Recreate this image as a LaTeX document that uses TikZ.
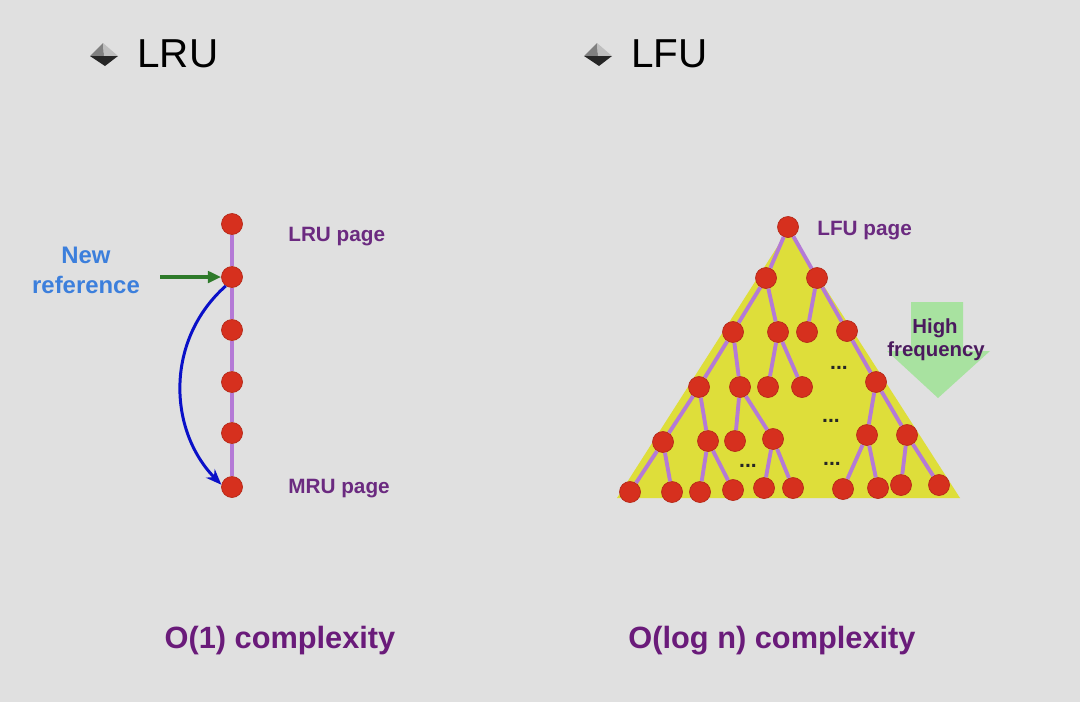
\documentclass[tikz,border=0pt]{standalone}
\usepackage{fontspec}
\setmainfont{Liberation Sans}
\usetikzlibrary{arrows.meta}
\definecolor{slidebg}{HTML}{E0E0E0}
\definecolor{pagered}{HTML}{D6301E}
\definecolor{linkviolet}{HTML}{B47AD6}
\definecolor{labelpurple}{HTML}{6B2A80}
\definecolor{cplxpurple}{HTML}{6A1B7A}
\definecolor{refblue}{HTML}{3C7FDC}
\definecolor{refgreen}{HTML}{2E7A2A}
\definecolor{moveblue}{HTML}{0A10C8}
\definecolor{heapyellow}{HTML}{DEDE3A}
\definecolor{freqgreen}{HTML}{A8E2A0}
\definecolor{freqtext}{HTML}{4B1A5E}
\tikzset{
  page/.style={circle, fill=pagered, draw=pagered!85!black, line width=0.4pt,
    minimum size=4.2mm, inner sep=0pt},
  link/.style={draw=linkviolet, line width=2.2pt},
  pagelabel/.style={anchor=base west, inner sep=0pt, text=labelpurple,
    font=\bfseries\fontsize{11.8}{14}\selectfont},
  heading/.style={anchor=base west, inner sep=0pt, font=\fontsize{23}{27}\selectfont},
  complexity/.style={anchor=base, inner sep=0pt, text=cplxpurple,
    font=\bfseries\fontsize{17.5}{21}\selectfont},
  newref/.style={anchor=base, inner sep=0pt, text=refblue,
    font=\bfseries\fontsize{13.6}{16}\selectfont},
  freqlabel/.style={anchor=base, inner sep=0pt, text=freqtext,
    font=\bfseries\fontsize{11.6}{14}\selectfont},
  moredots/.style={inner sep=0pt, text=black!85, font=\bfseries\fontsize{12}{14}\selectfont},
}
\newcommand{\slidebullet}[1]{%
  \begin{scope}[shift={#1}]
    \fill[black!50] (13,-12) -- (0,1) -- (14,1) -- cycle;
    \fill[black!25] (13,-12) -- (14,1) -- (28,1) -- cycle;
    \fill[black!85] (0,1) -- (28,1) -- (15,11) -- cycle;
  \end{scope}}
\begin{document}
\begin{tikzpicture}[x=0.2mm, y=-0.2mm, >=Stealth]
  \useasboundingbox (0,0) rectangle (1080,702);
  \fill[slidebg] (0,0) rectangle (1080,702);

  % headings
  \slidebullet{(90,55)}
  \node[heading] (lruhead) at (137,67) {LRU};
  \slidebullet{(584,55)}
  \node[heading] (lfuhead) at (631,67) {LFU};

  % LRU list
  \foreach \i/\y in {1/224, 2/277, 3/330, 4/382, 5/433, 6/487}
    \node[page] (n\i) at (232,\y) {};
  \foreach \i/\j in {1/2, 2/3, 3/4, 4/5, 5/6}
    \draw[link] (n\i) -- (n\j);
  \node[pagelabel] (lrulabel) at (288,241) {LRU page};
  \node[pagelabel] (mrulabel) at (288,493) {MRU page};
  \node[newref] (newref1) at (86,263) {New};
  \node[newref] (newref2) at (86,293) {reference};
  \coordinate (refin) at (160,277);
  \draw[refgreen, line width=2pt, -{Triangle[length=7.5pt, width=6.5pt]}] (refin) -- (n2);
  \draw[moveblue, line width=1.7pt, -{Stealth[length=9pt, width=7pt]}]
    (n2.235) .. controls (165,340) and (168,430) .. (n6.168);

  % LFU heap
  \fill[heapyellow] (788,230) -- (960,498) -- (617,498) -- cycle;
  \fill[freqgreen] (911,302) -- (963,302) -- (963,351) -- (990,351)
    -- (938,398) -- (887,351) -- (911,351) -- cycle;
  \node[freqlabel] (high) at (935,333) {High};
  \node[freqlabel] (freq) at (936,356) {frequency};

  \node[page] (r) at (788,227) {};
  \node[page] (a1) at (766,278) {};
  \node[page] (a2) at (817,278) {};
  \node[page] (b1) at (733,332) {};
  \node[page] (b2) at (778,332) {};
  \node[page] (b3) at (807,332) {};
  \node[page] (b4) at (847,331) {};
  \node[page] (c1) at (699,387) {};
  \node[page] (c2) at (740,387) {};
  \node[page] (c3) at (768,387) {};
  \node[page] (c4) at (802,387) {};
  \node[page] (c5) at (876,382) {};
  \node[page] (d1) at (663,442) {};
  \node[page] (d2) at (708,441) {};
  \node[page] (d3) at (735,441) {};
  \node[page] (d4) at (773,439) {};
  \node[page] (d5) at (867,435) {};
  \node[page] (d6) at (907,435) {};
  \node[page] (e1) at (630,492) {};
  \node[page] (e2) at (672,492) {};
  \node[page] (e3) at (700,492) {};
  \node[page] (e4) at (733,490) {};
  \node[page] (e5) at (764,488) {};
  \node[page] (e6) at (793,488) {};
  \node[page] (e7) at (843,489) {};
  \node[page] (e8) at (878,488) {};
  \node[page] (e9) at (901,485) {};
  \node[page] (e10) at (939,485) {};
  \foreach \p/\c in {r/a1, r/a2, a1/b1, a1/b2, a2/b3, a2/b4, b1/c1, b1/c2, b2/c3, b2/c4,
      b4/c5, c1/d1, c1/d2, c2/d3, c2/d4, c5/d5, c5/d6, d1/e1, d1/e2, d2/e3, d2/e4,
      d4/e5, d4/e6, d5/e7, d5/e8, d6/e9, d6/e10}
    \draw[link] (\p) -- (\c);
  \node[moredots] (dots1) at (839,368) {...};
  \node[moredots] (dots2) at (831,421) {...};
  \node[moredots] (dots3) at (748,466) {...};
  \node[moredots] (dots4) at (832,464) {...};
  \node[pagelabel] (lfulabel) at (817,235) {LFU page};

  % complexity
  \node[complexity] (lrucost) at (280,648) {O(1) complexity};
  \node[complexity] (lfucost) at (772,648) {O(log n) complexity};
\end{tikzpicture}
\end{document}
